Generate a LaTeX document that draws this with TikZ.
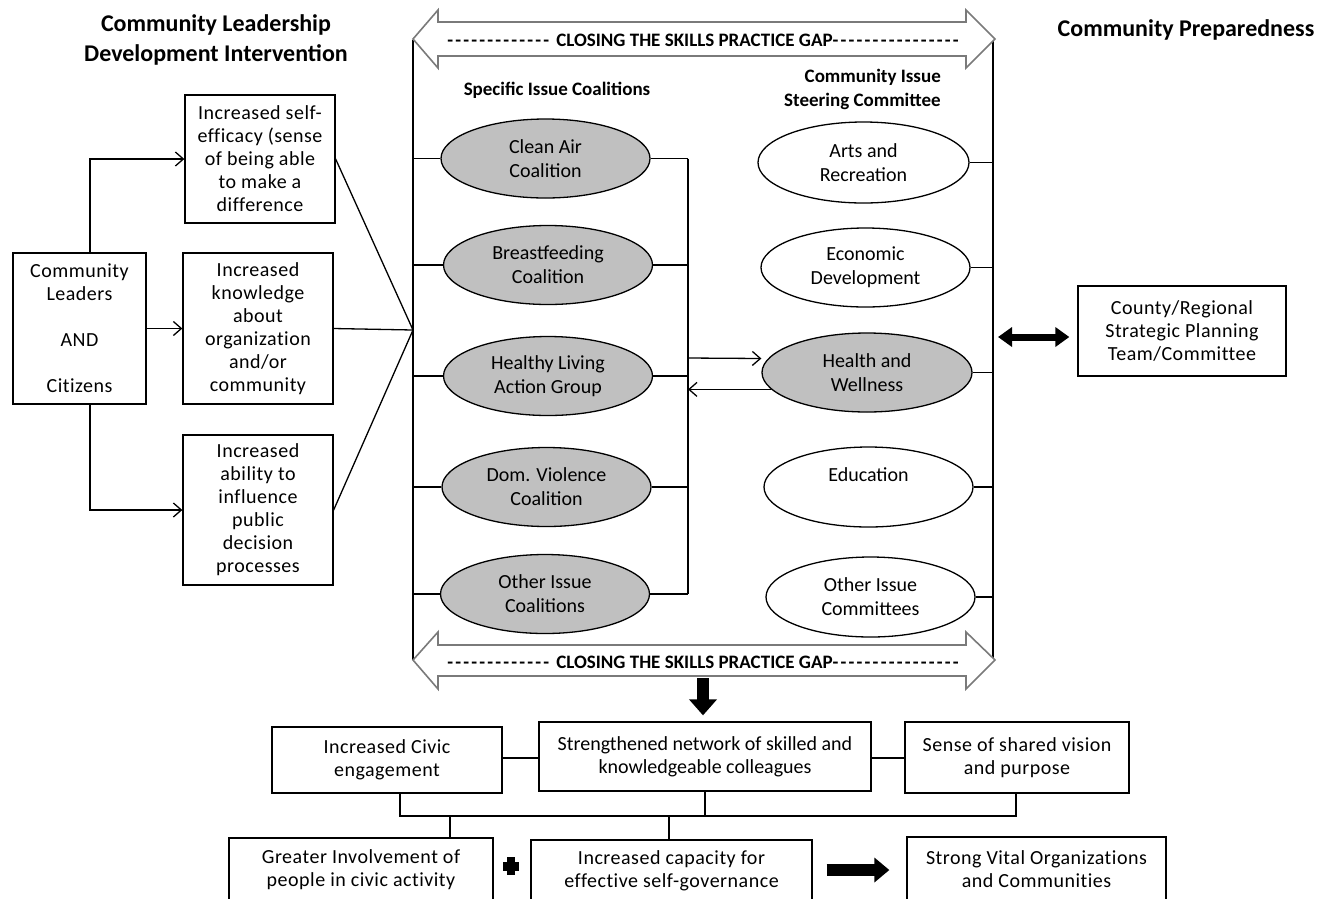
\documentclass[tikz,border=0pt]{standalone}
\usepackage{fontspec}
\setmainfont{Carlito}
\newfontfamily\spc{Carlito}[LetterSpace=2.5,Ligatures={NoCommon}]
\usetikzlibrary{arrows.meta,shapes.geometric}
\definecolor{ovalgray}{HTML}{C0C0C0}
\definecolor{arrowgray}{HTML}{7A7A7A}
\newcommand{\dashfill}[1]{\makebox[#1]{\leaders\hbox{-\kern2.2pt}\hfill}}
\begin{document}
\begin{tikzpicture}[x=1pt,y=-1pt,
  conn/.style={line width=1.3pt},
  arr/.style={conn,-{Straight Barb[length=8pt,width=14pt]}},
  rbox/.style={draw,line width=1.3pt,align=center,inner sep=0pt,font=\fontsize{20}{23}\selectfont\spc},
  goval/.style={ellipse,draw,line width=1.3pt,fill=ovalgray,inner sep=0pt,align=center,minimum width=209,minimum height=79,font=\fontsize{20}{24}\selectfont},
  woval/.style={goval,fill=white},
  hdr/.style={inner sep=0pt,align=center,font=\fontsize{24}{30}\selectfont\bfseries},
  shdr/.style={inner sep=0pt,align=center,font=\fontsize{19}{24}\selectfont\bfseries},
  hollow/.style={draw=arrowgray,fill=white,line width=1.6pt,line join=miter},
  fatdown/.style={line width=12pt,-{Triangle[length=16pt,width=27pt]}},
  fatright/.style={line width=12pt,-{Triangle[length=15pt,width=24pt]}},
  fatdbl/.style={line width=7pt,{Triangle[length=14pt,width=19pt]}-{Triangle[length=14pt,width=19pt]}},
  gaptext/.style={inner sep=0pt,font=\fontsize{19}{23}\selectfont\bfseries}
]
\useasboundingbox (0,0) rectangle (1319,898);
\clip (0,0) rectangle (1319,898);

% ---------- headers
\node[hdr] (hL) at (216,40) {Community Leadership\\Development Intervention};
\node[hdr] (hR) at (1186,30) {Community Preparedness};
\node[shdr] (hC) at (557,90) {Specific Issue Coalitions};
\node[shdr,align=right,anchor=east] (hS) at (941,89) {Community Issue\\Steering Committee};

% ---------- left boxes
\node[rbox,minimum width=133,minimum height=151] (cl) at (79.5,328.5)
  {Community\\Leaders\\\mbox{}\\AND\\\mbox{}\\Citizens};
\node[rbox,minimum width=150,minimum height=128] (b1) at (260,159)
  {Increased self-\\efficacy (sense\\of being able\\to make a\\difference};
\node[rbox,minimum width=150,minimum height=151] (b2) at (258,328.5)
  {Increased\\knowledge\\about\\organization\\and/or\\community};
\node[rbox,minimum width=150,minimum height=150] (b3) at (258,510)
  {Increased\\ability to\\influence\\public\\decision\\processes};

\coordinate (hub) at (413,330);
\draw[arr] ([xshift=10.5pt]cl.north) |- (b1.west);
\draw[arr] (cl.east) -- (b2.west);
\draw[arr] ([xshift=10.5pt]cl.south) |- (b3.west);
\draw[conn] (b1.east) -- (hub);
\draw[conn] (b2.east) -- (hub);
\draw[conn] (b3.east) -- (hub);

% ---------- frame
\coordinate (fTL) at (413,40);
\coordinate (fBL) at (413,660);
\coordinate (fTR) at (993,40);
\coordinate (fBR) at (993,660);
\coordinate (brk) at (688,0);
\draw[conn] (fTL) -- (fBL);
\draw[conn] (fTR) -- (fBR);

% ---------- coalition ovals
\node[goval] (ov1) at (545.5,158.5) {Clean Air\\Coalition};
\node[goval] (ov2) at (548,265) {Breastfeeding\\Coalition};
\node[goval] (ov3) at (548,376) {Healthy Living\\Action Group};
\node[goval] (ov4) at (546.5,487) {Dom. Violence\\Coalition};
\node[goval] (ov5) at (545,594) {Other Issue\\Coalitions};
\foreach \o in {ov1,ov2,ov3,ov4,ov5}{
  \draw[conn] (\o.west) -- (\o.west -| fTL);
  \draw[conn] (\o.east) -- (\o.east -| brk);
}
\draw[conn] (ov1.east -| brk) -- (ov5.east -| brk);

% ---------- committee ovals
\node[woval,minimum width=211,minimum height=81] (w1) at (863.5,162.5) {Arts and\\Recreation};
\node[woval] (w2) at (865.5,267.5) {Economic\\Development};
\node[goval,minimum width=210] (hw) at (867,372.5) {Health and\\Wellness};
\node[woval,minimum height=80] (w4) at (868.5,487) {Education\\\mbox{}};
\node[woval,minimum height=80] (w5) at (870.5,597) {Other Issue\\Committees};
\foreach \o in {w1,w2,hw,w4,w5}{
  \draw[conn] (\o.east) -- (\o.east -| fTR);
}
\draw[arr] (brk |- 0,358) -- ([yshift=14pt]hw.west);
\draw[arr] (hw.190) -- (brk |- hw.190);

% ---------- hollow double arrows
\draw[hollow] (413,39) -- (438,10) -- (438,22) -- (966,22) -- (966,10) -- (995,39)
  -- (966,68) -- (966,56) -- (438,56) -- (438,68) -- cycle;
\draw[hollow] (413,660) -- (438,632) -- (438,645) -- (966,645) -- (966,632) -- (995,660)
  -- (966,689) -- (966,676) -- (438,676) -- (438,689) -- cycle;
\node[gaptext] (gapT) at (705,40) {\dashfill{109pt}CLOSING THE SKILLS PRACTICE GAP\dashfill{130pt}};
\node[gaptext] (gapB) at (705,662) {\dashfill{109pt}CLOSING THE SKILLS PRACTICE GAP\dashfill{130pt}};

% ---------- county
\node[rbox,minimum width=208,minimum height=90] (county) at (1182,331)
  {County/Regional\\Strategic Planning\\Team/Committee};
\coordinate (cm) at (998,337);
\draw[fatdbl,shorten >=8pt] (cm) -- (cm -| county.west);

% ---------- bottom outcomes
\node[rbox,minimum width=230,minimum height=66] (civic) at (387,760) {Increased Civic\\engagement};
\node[rbox,minimum width=332,minimum height=69,font=\fontsize{20}{23}\selectfont] (network) at (705,756.5)
  {Strengthened network of skilled and\\knowledgeable colleagues};
\node[rbox,minimum width=224,minimum height=71] (shared) at (1017,757.5) {Sense of shared vision\\and purpose};

\coordinate (dn) at (703,678);
\draw[fatdown,shorten >=6pt] (dn) -- (dn |- network.north);
\draw[conn] (civic.east |- 0,758) -- (network.west |- 0,758);
\draw[conn] (network.east |- 0,758) -- (shared.west |- 0,758);

\coordinate (busL) at (400,816);
\coordinate (busR) at (1016,816);
\coordinate (dropG) at (450,816);
\coordinate (dropC) at (669,816);
\draw[conn] (civic.south -| busL) -- (busL) -- (busR) -- (busR |- shared.south);
\draw[conn] (network.south) -- (network.south |- busL);

\node[rbox,minimum width=264,minimum height=64] (greater) at (361,870)
  {Greater Involvement of\\people in civic activity};
\node[rbox,minimum width=281,minimum height=62] (capacity) at (671.5,871)
  {Increased capacity for\\effective self-governance};
\node[rbox,minimum width=259,minimum height=65] (strong) at (1036.5,869.5)
  {Strong Vital Organizations\\and Communities};
\draw[conn] (dropG) -- (dropG |- greater.north);
\draw[conn] (dropC) -- (dropC |- capacity.north);

% plus sign
\coordinate (plus) at (511,866);
\fill ([xshift=-4pt,yshift=9pt]plus) rectangle ([xshift=4pt,yshift=-9pt]plus);
\fill ([xshift=-8pt,yshift=4.5pt]plus) rectangle ([xshift=8pt,yshift=-4.5pt]plus);

\draw[fatright,shorten <=14pt,shorten >=17pt] (capacity.east |- 0,870) -- (strong.west |- 0,870);
\end{tikzpicture}
\end{document}
